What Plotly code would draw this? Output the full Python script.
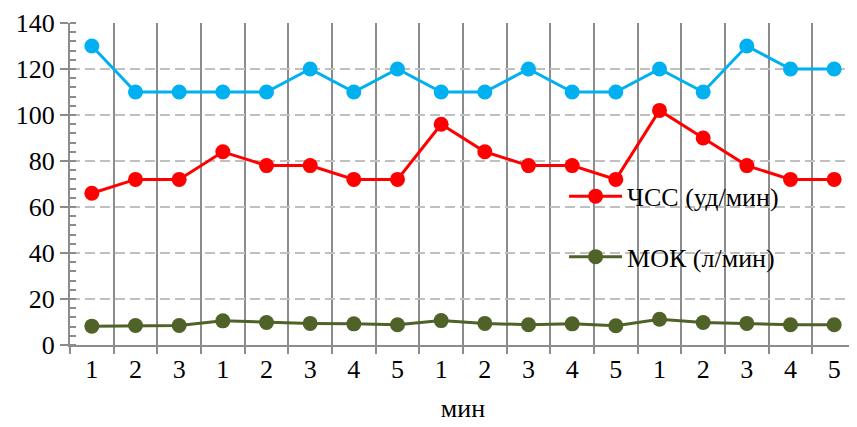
import plotly.graph_objects as go

x_labels = ["1", "2", "3", "1", "2", "3", "4", "5", "1", "2", "3", "4", "5", "1", "2", "3", "4", "5"]
blue_vals = [130, 110, 110, 110, 110, 120, 110, 120, 110, 110, 120, 110, 110, 120, 110, 130, 120, 120]
hr_vals = [66, 72, 72, 84, 78, 78, 72, 72, 96, 84, 78, 78, 72, 102, 90, 78, 72, 72]
mok_vals = [8.2, 8.5, 8.5, 10.5, 9.8, 9.4, 9.2, 8.8, 10.6, 9.4, 8.8, 9.2, 8.4, 11.2, 9.8, 9.4, 8.8, 8.8]
hr_name = "ЧСС (уд/мин)"
mok_name = "МОК (л/мин)"
x_title = "мин"

xs = list(range(len(x_labels)))
FONT = "Liberation Serif"
FS = 26

fig = go.Figure()
fig.add_trace(go.Scatter(x=xs, y=blue_vals, mode="lines+markers", showlegend=False,
                         line=dict(color="#00B0F0", width=3), marker=dict(size=15, color="#00B0F0")))
fig.add_trace(go.Scatter(x=xs, y=hr_vals, mode="lines+markers", name=hr_name, legend="legend",
                         line=dict(color="#FF0000", width=3), marker=dict(size=15, color="#FF0000")))
fig.add_trace(go.Scatter(x=xs, y=mok_vals, mode="lines+markers", name=mok_name, legend="legend2",
                         line=dict(color="#4F6228", width=3), marker=dict(size=15, color="#4F6228")))

fig.update_layout(
    template="none",
    width=849, height=419,
    margin=dict(l=62, r=1, t=15, b=82, autoexpand=False),
    paper_bgcolor="white", plot_bgcolor="white",
    font=dict(family=FONT, size=FS, color="black"),
    xaxis=dict(
        automargin=False,
        range=[-0.5, len(x_labels) - 0.5],
        tickmode="array", tickvals=xs, ticktext=x_labels,
        showgrid=False, ticks="", zeroline=False,
        showline=True, linecolor="#8c8c8c", linewidth=2,
        minor=dict(tickmode="linear", tick0=-0.5, dtick=1, showgrid=True,
                   gridcolor="#8c8c8c", gridwidth=2, ticks="outside", ticklen=7,
                   tickcolor="#8c8c8c", tickwidth=2),
        title=dict(text=x_title, standoff=16, font=dict(family=FONT, size=FS)),
        tickfont=dict(family=FONT, size=FS),
        ticklabeloverflow="allow",
        fixedrange=True,
    ),
    yaxis=dict(
        automargin=False,
        range=[0, 140], tickmode="linear", tick0=0, dtick=20,
        showgrid=True, gridcolor="#c0c0c0", gridwidth=2, griddash="10px,5px",
        zeroline=False, showline=True, linecolor="#8c8c8c", linewidth=2,
        ticks="outside", ticklen=8, tickcolor="#8c8c8c", tickwidth=2,
        minor=dict(tickmode="linear", tick0=0, dtick=4, ticks="inside", ticklen=6,
                   tickcolor="#8c8c8c", tickwidth=1.5, showgrid=False),
        tickfont=dict(family=FONT, size=FS),
        ticklabeloverflow="allow",
        fixedrange=True,
    ),
    legend=dict(x=0.6286, y=0.462, xanchor="left", yanchor="middle", bgcolor="rgba(0,0,0,0)",
                font=dict(family=FONT, size=FS), itemwidth=53),
    legend2=dict(x=0.6286, y=0.274, xanchor="left", yanchor="middle", bgcolor="rgba(0,0,0,0)",
                 font=dict(family=FONT, size=FS), itemwidth=53),
)

fig.write_html("out.html")
